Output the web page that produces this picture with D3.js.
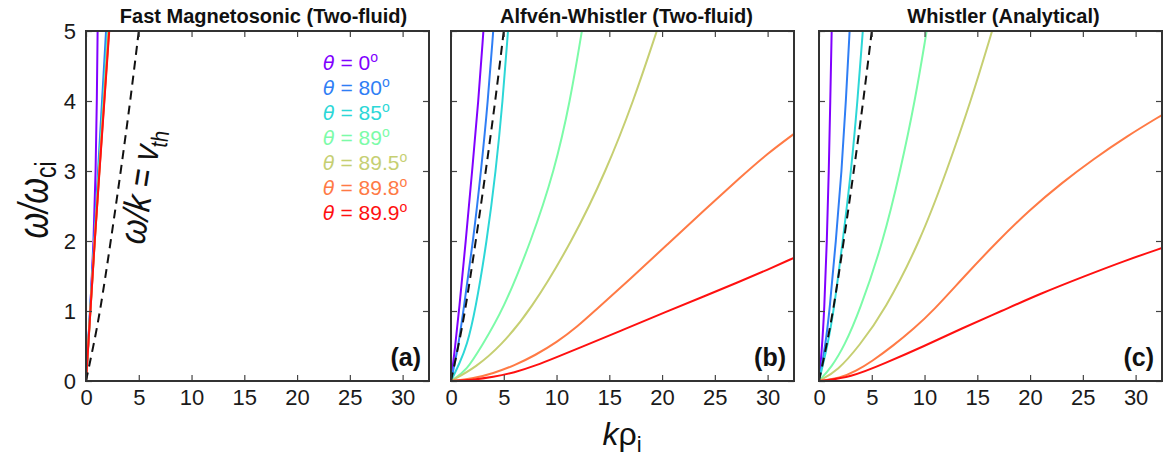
<!DOCTYPE html>
<html>
<head>
<meta charset="utf-8">
<script src="https://cdn.jsdelivr.net/npm/d3@7"></script>
<style>
  body { margin: 0; background: #fff; }
  svg { font-family: "Liberation Sans", Arial, Helvetica, sans-serif; }
  .tick text { fill: #1a1a1a; }
</style>
</head>
<body>
<div id="chart"></div>
<script>
// Data: k*rho_i vs omega/omega_ci
const thetas = ['0', '80', '85', '89', '89.5', '89.8', '89.9'];
const colors = ['#8000ff', '#2f7ef5', '#2cd7d7', '#7cfba8', '#c6cf72', '#ff7a45', '#ff1010'];
const panelTitles = ['Fast Magnetosonic (Two-fluid)', 'Alfvén-Whistler (Two-fluid)', 'Whistler (Analytical)'];
const panelTags = ['(a)', '(b)', '(c)'];
const xTicks = [0, 5, 10, 15, 20, 25, 30];
const yTicks = [0, 1, 2, 3, 4, 5];

const fastMagnetosonic = [
  [[0, 0], [0.2, 0.5], [0.4, 1], [0.73, 2], [0.92, 3], [1.03, 4], [1.1, 5]],
  [[0, 0], [0.38, 1], [0.76, 2], [1.14, 3], [1.52, 4], [1.9, 5]],
  [[0, 0], [0.4, 1], [0.8, 2], [1.2, 3], [1.62, 4], [2.05, 5]],
  [[0, 0], [0.41, 1], [0.81, 2], [1.25, 3], [1.68, 4], [2.12, 5]],
  [[0, 0], [0.42, 1], [0.82, 2], [1.26, 3], [1.71, 4], [2.16, 5]],
  [[0, 0], [0.42, 1], [0.82, 2], [1.27, 3], [1.73, 4], [2.18, 5]],
  [[0, 0], [0.42, 1], [0.82, 2], [1.28, 3], [1.74, 4], [2.2, 5]]
];

const alfvenWhistler = [
  [[0, 0], [0.4, 0.5], [0.76, 1], [1.4, 2], [2.0, 3], [2.6, 4], [3.07, 5]],
  [[0, 0], [0.7, 0.5], [1.17, 1], [2.1, 2], [2.85, 3], [3.5, 4], [4.0, 5]],
  [[0, 0], [0.8, 0.25], [1.5, 0.5], [2.3, 1], [3.4, 2], [4.25, 3], [4.9, 4], [5.4, 5]],
  [[0, 0], [1.5, 0.15], [2.9, 0.5], [4.9, 1], [7.6, 2], [9.8, 3], [11.3, 4], [12.4, 5]],
  [[0, 0], [2.4, 0.2], [4.7, 0.5], [7.5, 1], [11.5, 2], [14.7, 3], [17.3, 4], [19.5, 5]],
  [[0, 0], [2, 0.03], [4, 0.11], [6, 0.22], [8, 0.37], [10, 0.55], [12, 0.78], [13.6, 1.0], [17, 1.46], [20.5, 1.95], [24, 2.44], [27.5, 2.92], [30, 3.25], [32.5, 3.53]],
  [[0, 0], [2, 0.015], [4, 0.055], [6, 0.12], [8, 0.22], [10, 0.34], [12.1, 0.47], [16.3, 0.73], [20.4, 0.99], [24, 1.21], [27.2, 1.41], [30, 1.59], [32.5, 1.76]]
];

const whistler = [
  [[0, 0], [0.25, 0.4], [0.5, 1], [0.75, 2], [0.93, 3], [1.07, 4], [1.2, 5]],
  [[0, 0], [0.6, 0.5], [1.0, 1], [1.6, 2], [2.15, 3], [2.55, 4], [2.9, 5]],
  [[0, 0], [0.8, 0.5], [1.4, 1], [2.25, 2], [3.05, 3], [3.65, 4], [4.15, 5]],
  [[0, 0], [1.2, 0.2], [2.4, 0.5], [3.85, 1], [6.1, 2], [7.7, 3], [9.1, 4], [10.2, 5]],
  [[0, 0], [1.8, 0.15], [3.8, 0.5], [6.2, 1], [9.6, 2], [12.1, 3], [14.4, 4], [16.4, 5]],
  [[0, 0], [2, 0.04], [3.5, 0.14], [5, 0.28], [7, 0.5], [9, 0.75], [10.8, 1], [13.8, 1.5], [16.8, 1.98], [20, 2.45], [23, 2.83], [26, 3.17], [29.2, 3.5], [32.5, 3.8]],
  [[0, 0], [3, 0.05], [6.2, 0.25], [10, 0.5], [13.5, 0.75], [17.3, 1], [21, 1.25], [25.2, 1.5], [29, 1.72], [32.5, 1.9]]
];

// omega/k = v_th reference line
const thermalLine = [[0, 0], [0.7, 0.5], [1.35, 1], [2.35, 2], [3.3, 3], [4.2, 4], [5.0, 5]];

const panels = [fastMagnetosonic, alfvenWhistler, whistler];

// Layout
const width = 1167;
const height = 462;
const panelLeft = [86, 451, 819];
const titleShift = [6, 4, 13];
const panelTop = 31;
const panelW = 343;
const panelH = 350;

const svg = d3.select('#chart').append('svg')
  .attr('width', width)
  .attr('height', height);

const x = d3.scaleLinear().domain([0, 32.5]).range([0, panelW]);
const y = d3.scaleLinear().domain([0, 5]).range([panelH, 0]);

const line = d3.line()
  .x((d) => x(d[0]))
  .y((d) => y(d[1]))
  .curve(d3.curveBasis);

panels.forEach((series, p) => {
  const g = svg.append('g').attr('transform', `translate(${panelLeft[p]},${panelTop})`);

  g.append('clipPath').attr('id', 'clip' + p)
    .append('rect').attr('width', panelW).attr('height', panelH);

  const plot = g.append('g').attr('clip-path', `url(#clip${p})`);

  series.forEach((pts, i) => {
    plot.append('path')
      .attr('d', line(pts))
      .attr('fill', 'none')
      .attr('stroke', colors[i])
      .attr('stroke-width', 2);
  });

  plot.append('path')
    .attr('d', line(thermalLine))
    .attr('fill', 'none')
    .attr('stroke', '#111')
    .attr('stroke-width', 2)
    .attr('stroke-dasharray', '9,6');

  // axes, ticks inward on all sides
  const bottom = g.append('g')
    .attr('transform', `translate(0,${panelH})`)
    .call(d3.axisBottom(x).tickValues(xTicks).tickSize(-6).tickPadding(8));
  const top = g.append('g')
    .call(d3.axisTop(x).tickValues(xTicks).tickSize(-6).tickFormat(''));
  const left = g.append('g')
    .call(d3.axisLeft(y).tickValues(yTicks).tickSize(-6).tickPadding(10)
      .tickFormat(p === 0 ? d3.format('d') : ''));
  const right = g.append('g')
    .attr('transform', `translate(${panelW},0)`)
    .call(d3.axisRight(y).tickValues(yTicks).tickSize(-6).tickFormat(''));

  [bottom, top, left, right].forEach((a) => {
    a.select('.domain').remove();
    a.selectAll('line').attr('stroke', '#444').attr('stroke-width', 1.2);
    a.selectAll('text').attr('font-size', 22).attr('font-family', null);
  });

  g.append('rect')
    .attr('width', panelW)
    .attr('height', panelH)
    .attr('fill', 'none')
    .attr('stroke', '#333')
    .attr('stroke-width', 2);

  // Title
  g.append('text')
    .attr('x', panelW / 2 + titleShift[p])
    .attr('y', -8)
    .attr('text-anchor', 'middle')
    .attr('font-size', 20)
    .attr('font-weight', 'bold')
    .attr('fill', '#111')
    .text(panelTitles[p]);

  // Panel tag
  g.append('text')
    .attr('x', panelW - 8)
    .attr('y', panelH - 15)
    .attr('text-anchor', 'end')
    .attr('font-size', 25)
    .attr('font-weight', 'bold')
    .attr('fill', '#111')
    .text(panelTags[p]);

  // Legend and v_th label only in panel (a)
  if (p === 0) {
    const legend = g.append('g');
    thetas.forEach((t, i) => {
      const txt = legend.append('text')
        .attr('x', 237)
        .attr('y', 39 + i * 25)
        .attr('font-size', 21)
        .attr('fill', colors[i]);
      txt.append('tspan').attr('font-style', 'italic').attr('font-family', 'DejaVu Sans').attr('font-size', 19).text('θ');
      txt.append('tspan').text(' = ' + t);
      txt.append('tspan').attr('font-size', 14).attr('dy', -8).text('o');
    });

    const vth = g.append('text')
      .attr('transform', 'translate(67,157) rotate(-81) scale(1,1.2)')
      .attr('text-anchor', 'middle')
      .attr('font-size', 31)
      .attr('fill', '#111');
    vth.append('tspan').attr('font-style', 'italic').text('ω/k = v');
    vth.append('tspan').attr('font-size', 20).attr('dy', 6).text('th');
  }
});

// Axis labels
const yLab = svg.append('text')
  .attr('transform', 'translate(48,200) rotate(-90) scale(1,1.3)')
  .attr('text-anchor', 'middle')
  .attr('font-size', 33)
  .attr('fill', '#111');
yLab.append('tspan').attr('font-style', 'italic').text('ω/ω');
yLab.append('tspan').attr('font-size', 23).attr('dy', 6).text('ci');

const xLab = svg.append('text')
  .attr('x', 622)
  .attr('y', 445)
  .attr('text-anchor', 'middle')
  .attr('font-size', 32)
  .attr('fill', '#111');
xLab.append('tspan').attr('font-style', 'italic').text('k');
xLab.append('tspan').text('ρ');
xLab.append('tspan').attr('font-size', 22).attr('dy', 7).text('i');
</script>
</body>
</html>
